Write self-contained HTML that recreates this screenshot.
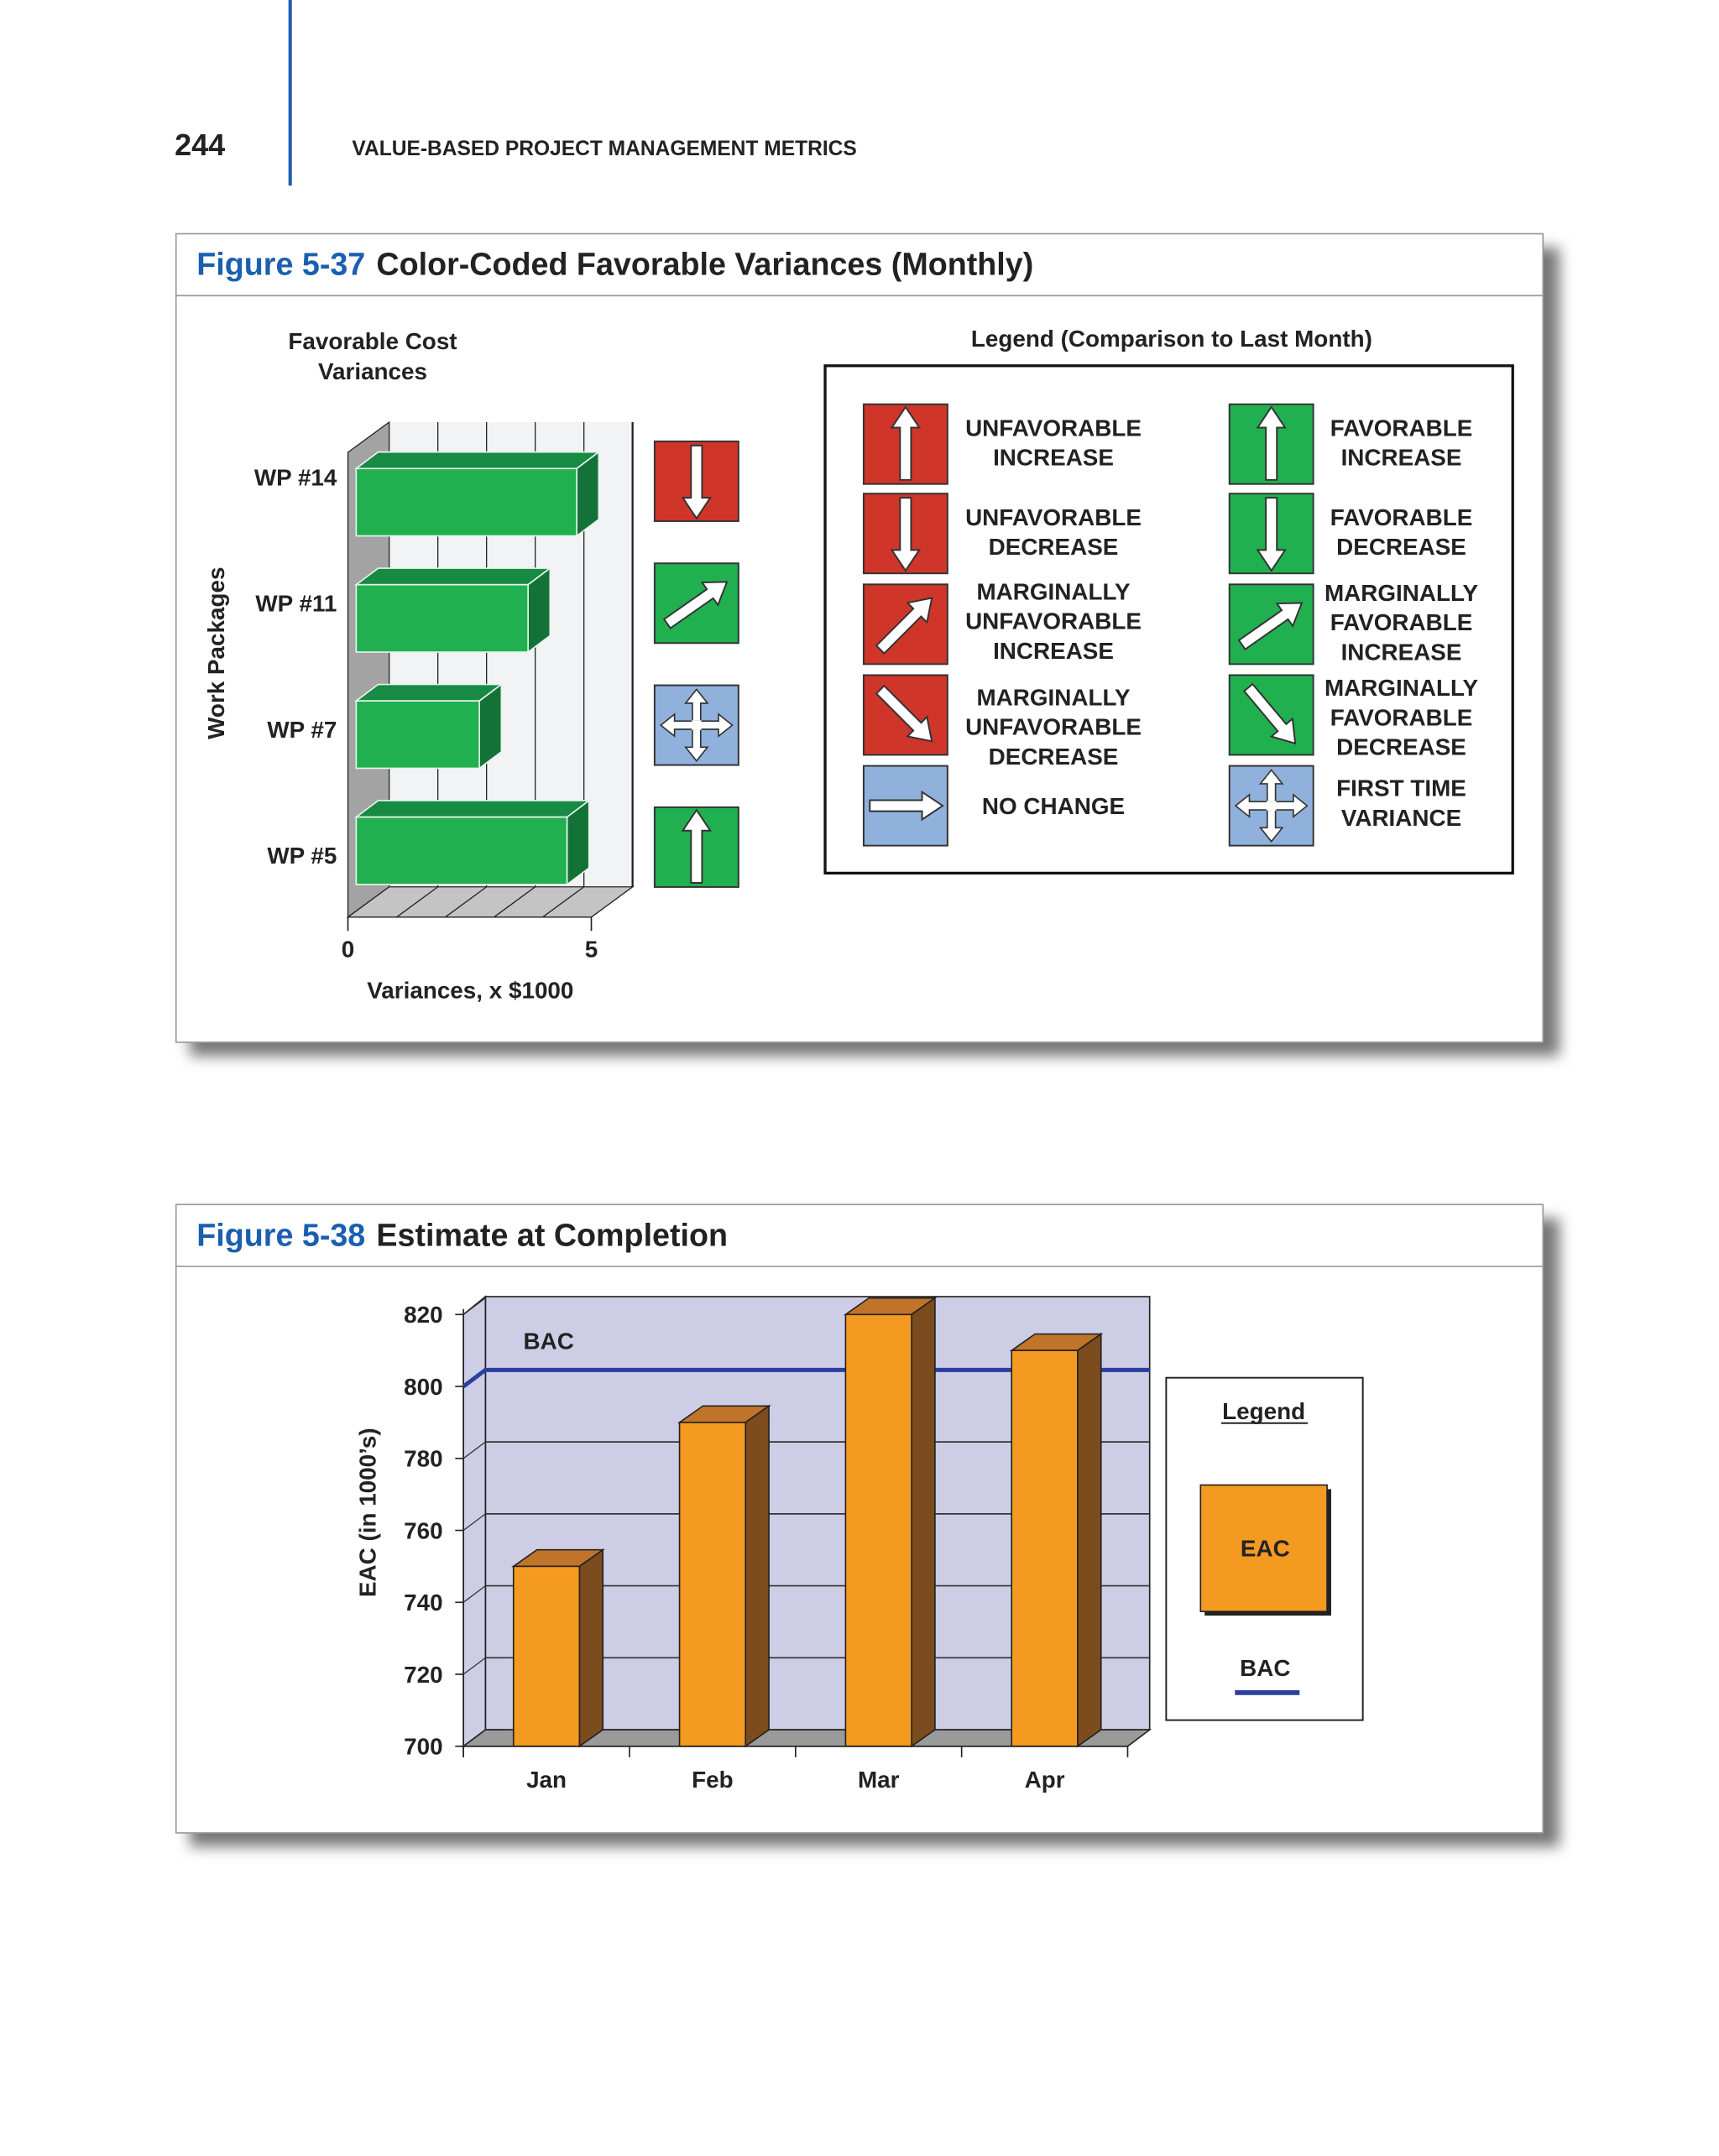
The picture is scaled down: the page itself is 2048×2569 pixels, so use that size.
<!DOCTYPE html>
<html><head><meta charset="utf-8">
<style>
html,body{margin:0;padding:0;background:#fff;}
svg{display:block;}
text{font-family:"Liberation Sans",sans-serif;}
</style></head>
<body>
<svg id="page" width="2048" height="2569" viewBox="0 0 1250 1568" xmlns="http://www.w3.org/2000/svg">
<defs>
<filter id="blur" x="-5%" y="-5%" width="110%" height="110%"><feGaussianBlur stdDeviation="5"/></filter>
</defs>
<rect x="0" y="0" width="1250" height="1568" fill="#fff"/>
<line x1="211" y1="0" x2="211" y2="135" stroke="#1f5fae" stroke-width="2.5"/>
<text x="127" y="113" font-size="22" font-weight="bold" fill="#222">244</text>
<text x="256" y="113" font-size="15" font-weight="bold" fill="#222">VALUE-BASED PROJECT MANAGEMENT METRICS</text>

<g>
<rect x="138" y="180" width="996" height="588" fill="#777" filter="url(#blur)"/>
<rect x="128" y="170" width="994" height="588" fill="#fff" stroke="#999" stroke-width="1"/>
<line x1="128" y1="215" x2="1122" y2="215" stroke="#999" stroke-width="1"/>
<text x="143" y="200" font-size="23" font-weight="bold"><tspan fill="#1a5fb0">Figure 5-37</tspan><tspan fill="#222" dx="8">Color-Coded Favorable Variances (Monthly)</tspan></text>
</g>
<g id="chart1"></g>
<g id="legend1"></g>

<g>
<rect x="138" y="886" width="996" height="457" fill="#777" filter="url(#blur)"/>
<rect x="128" y="876" width="994" height="457" fill="#fff" stroke="#999" stroke-width="1"/>
<line x1="128" y1="921" x2="1122" y2="921" stroke="#999" stroke-width="1"/>
<text x="143" y="906" font-size="23" font-weight="bold"><tspan fill="#1a5fb0">Figure 5-38</tspan><tspan fill="#222" dx="8">Estimate at Completion</tspan></text>
</g>
<g id="chart2"></g>
</svg>
<script>
// ---------- Chart 1 data ----------
const wpLabels = ['WP #14', 'WP #11', 'WP #7', 'WP #5'];
const wpVariances = [4.7, 3.7, 2.7, 4.5];
const wpIcons = ['ud', 'mfi', 'ftv', 'fi'];
const xTicks1 = [0, 5];
// ---------- Chart 2 data ----------
const months = ['Jan', 'Feb', 'Mar', 'Apr'];
const eacValues = [750, 790, 820, 810];
const bacValue = 800;
const yTicks2 = [700, 720, 740, 760, 780, 800, 820];

const NS = 'http://www.w3.org/2000/svg';
function mk(tag, attrs, parent, txt) {
  const e = document.createElementNS(NS, tag);
  for (const k in attrs) e.setAttribute(k, attrs[k]);
  if (txt !== undefined) e.textContent = txt;
  parent.appendChild(e);
  return e;
}
const COL = {r:'#cf3529', g:'#21b04f', b:'#8fb1dc'};
const ARROW = '-4,26 4,26 4,-12 10,-12 0,-27 -10,-12 -4,-12';
function icon(parent, x, y, kind) {
  const g = mk('g', {}, parent);
  
  
  const map = {ui:['r',0], ud:['r',180], mui:['r',45], mud:['r',135], nc:['b',90], fi:['g',0], fd:['g',180], mfi:['g',55], mfd:['g',140], ftv:['b','x']};
  const [c, rot] = map[kind];
  mk('rect', {x:x, y:y, width:61, height:58, fill:COL[c], stroke:'#333', 'stroke-width':1.2}, g);
  const cx = x + 30.5, cy = y + 29;
  if (rot === 'x') {
    [0, 90, 180, 270].forEach(a => {
      mk('polygon', {points:'-3,0 3,0 3,-16 8,-16 0,-26 -8,-16 -3,-16', fill:'#fff', stroke:'#333', 'stroke-width':1, transform:`translate(${cx},${cy}) rotate(${a})`}, g);
    });
    mk('rect', {x:cx-3.5, y:cy-3.5, width:7, height:7, fill:'#fff'}, g);
  } else {
    mk('polygon', {points:ARROW, fill:'#fff', stroke:'#333', 'stroke-width':1.2, transform:`translate(${cx},${cy}) rotate(${rot})`}, g);
  }
}

// ---------- Chart 1 ----------
(function(){
  const g = document.getElementById('chart1');
  const x0 = 253, unit = 35.4, dX = 30, dY = -22, yTop = 329, yBot = 667;
  const xs = v => x0 + v * unit;
  mk('text', {x:271, y:254, 'font-size':17, 'font-weight':'bold', 'text-anchor':'middle', fill:'#222'}, g, 'Favorable Cost');
  mk('text', {x:271, y:276, 'font-size':17, 'font-weight':'bold', 'text-anchor':'middle', fill:'#222'}, g, 'Variances');
  mk('rect', {x:x0+dX, y:yTop+dY, width:5*unit, height:yBot-yTop, fill:'#f1f3f5'}, g);
  for (let i = 1; i <= 5; i++) mk('line', {x1:xs(i)+dX, y1:yTop+dY, x2:xs(i)+dX, y2:yBot+dY, stroke:'#222', 'stroke-width':i===5?1.4:0.8}, g);
  mk('polygon', {points:`${x0},${yTop} ${x0+dX},${yTop+dY} ${x0+dX},${yBot+dY} ${x0},${yBot}`, fill:'#a3a3a3', stroke:'#222', 'stroke-width':0.8}, g);
  mk('polygon', {points:`${x0},${yBot} ${x0+dX},${yBot+dY} ${xs(5)+dX},${yBot+dY} ${xs(5)},${yBot}`, fill:'#c4c4c4', stroke:'#222', 'stroke-width':0.8}, g);
  for (let i = 1; i <= 4; i++) mk('line', {x1:xs(i), y1:yBot, x2:xs(i)+dX, y2:yBot+dY, stroke:'#222', 'stroke-width':0.8}, g);
  mk('line', {x1:x0, y1:yBot, x2:x0, y2:yBot+10, stroke:'#222'}, g);
  mk('line', {x1:xs(5), y1:yBot, x2:xs(5), y2:yBot+10, stroke:'#222'}, g);
  xTicks1.forEach(t => {
    const tx = mk('text', {x:xs(t), y:696, 'font-size':17, 'font-weight':'bold', 'text-anchor':'middle', fill:'#222'}, g, String(t));
    
    
  });
  const xt = mk('text', {x:342, y:726, 'font-size':17, 'font-weight':'bold', 'text-anchor':'middle', fill:'#222'}, g, 'Variances, x $1000');
  
  
  const yt = mk('text', {x:0, y:0, 'font-size':17, 'font-weight':'bold', 'text-anchor':'middle', fill:'#222', transform:'translate(163,475) rotate(-90)'}, g, 'Work Packages');
  
  
  const band = (yBot - yTop) / wpLabels.length;
  wpLabels.forEach((lab, i) => {
    const yc = yTop + band * (i + 0.5) - 6;
    const h = 49, bx = x0 + 6, by = yc - h/2, bw = xs(wpVariances[i]) - bx, ox = 16, oy = -12;
    const bar = mk('g', {}, g);
    
    
    mk('polygon', {points:`${bx},${by} ${bx+ox},${by+oy} ${bx+bw+ox},${by+oy} ${bx+bw},${by}`, fill:'#178a43', stroke:'#e8f5ec', 'stroke-width':1}, bar);
    mk('polygon', {points:`${bx+bw},${by} ${bx+bw+ox},${by+oy} ${bx+bw+ox},${by+h+oy} ${bx+bw},${by+h}`, fill:'#137238', stroke:'#e8f5ec', 'stroke-width':1}, bar);
    mk('rect', {x:bx, y:by, width:bw, height:h, fill:'#21b04f', stroke:'#e8f5ec', 'stroke-width':1}, bar);
    const t = mk('text', {x:245, y:353 + i*91.7, 'font-size':17, 'font-weight':'bold', 'text-anchor':'end', fill:'#222'}, g, lab);
    
    
    icon(g, 476, 321 + i*88.7, wpIcons[i]);
  });
})();

// ---------- Legend 1 ----------
(function(){
  const g = document.getElementById('legend1');
  mk('text', {x:852, y:252, 'font-size':17, 'font-weight':'bold', 'text-anchor':'middle', fill:'#222'}, g, 'Legend (Comparison to Last Month)');
  mk('rect', {x:600, y:266, width:500, height:369, fill:'#fff', stroke:'#111', 'stroke-width':2}, g);
  const left = [['ui', 294, ['UNFAVORABLE','INCREASE'], 311],
                ['ud', 359, ['UNFAVORABLE','DECREASE'], 376],
                ['mui', 425, ['MARGINALLY','UNFAVORABLE','INCREASE'], 430],
                ['mud', 491, ['MARGINALLY','UNFAVORABLE','DECREASE'], 507],
                ['nc', 557, ['NO CHANGE'], 586]];
  const right = [['fi', 294, ['FAVORABLE','INCREASE'], 311],
                 ['fd', 359, ['FAVORABLE','DECREASE'], 376],
                 ['mfi', 425, ['MARGINALLY','FAVORABLE','INCREASE'], 431],
                 ['mfd', 491, ['MARGINALLY','FAVORABLE','DECREASE'], 500],
                 ['ftv', 557, ['FIRST TIME','VARIANCE'], 573]];
  function col(list, ix, tx) {
    list.forEach(([k, y, lines, ty]) => {
      icon(g, ix, y, k);
      lines.forEach((l, j) => {
        const t = mk('text', {x:tx, y:ty + 6 + j*21.5, 'font-size':17, 'font-weight':'bold', 'text-anchor':'middle', fill:'#222'}, g, l);
        
        
      });
    });
  }
  col(left, 628, 766);
  col(right, 894, 1019);
})();

// ---------- Chart 2 ----------
(function(){
  const g = document.getElementById('chart2');
  const x0 = 337, x1 = 820, yBase = 1270, per = (1270 - 956) / 120, dX = 16, dY = -12;
  const ys = v => yBase - (v - 700) * per;
  const bandW = (x1 - x0) / months.length;
  mk('rect', {x:x0+dX, y:ys(820)+dY-1, width:x1-x0, height:yBase-ys(820)+1, fill:'#cecde6', stroke:'#222', 'stroke-width':1}, g);
  mk('polygon', {points:`${x0},${ys(820)} ${x0+dX},${ys(820)+dY-1} ${x0+dX},${yBase+dY} ${x0},${yBase}`, fill:'#cecde6', stroke:'#222', 'stroke-width':1}, g);
  yTicks2.forEach(t => {
    if (t > 700 && t < 820) mk('line', {x1:x0+dX, y1:ys(t)+dY, x2:x1+dX, y2:ys(t)+dY, stroke:'#333', 'stroke-width':1}, g);
    mk('line', {x1:x0, y1:ys(t), x2:x0+dX, y2:ys(t)+dY, stroke:'#333', 'stroke-width':0.8}, g);
    mk('line', {x1:x0-6, y1:ys(t), x2:x0, y2:ys(t), stroke:'#222', 'stroke-width':1}, g);
    const tl = mk('text', {x:322, y:ys(t)+6, 'font-size':17, 'font-weight':'bold', 'text-anchor':'end', fill:'#222'}, g, String(t));
    
    
  });
  mk('polygon', {points:`${x0},${yBase} ${x0+dX},${yBase+dY} ${x1+dX},${yBase+dY} ${x1},${yBase}`, fill:'#9a9a9a', stroke:'#222', 'stroke-width':1}, g);
  mk('line', {x1:x0, y1:ys(820)-4, x2:x0, y2:yBase+8, stroke:'#222', 'stroke-width':1}, g);
  mk('line', {x1:x0, y1:yBase, x2:x1, y2:yBase, stroke:'#222', 'stroke-width':1}, g);
  for (let i = 0; i <= months.length; i++) mk('line', {x1:x0+i*bandW, y1:yBase, x2:x0+i*bandW, y2:yBase+8, stroke:'#222', 'stroke-width':1}, g);
  const bac = mk('polyline', {points:`${x0},${ys(bacValue)} ${x0+dX},${ys(bacValue)+dY} ${x1+dX},${ys(bacValue)+dY}`, fill:'none', stroke:'#2c3f9c', 'stroke-width':3}, g);
  
  
  mk('text', {x:399, y:981, 'font-size':17, 'font-weight':'bold', 'text-anchor':'middle', fill:'#222'}, g, 'BAC');
  months.forEach((m, i) => {
    const cx = x0 + bandW * (i + 0.5), w = 48, bx = cx - w/2, top = ys(eacValues[i]), ox = 17, oy = -12;
    const bar = mk('g', {}, g);
    
    
    mk('polygon', {points:`${bx},${top} ${bx+ox},${top+oy} ${bx+w+ox},${top+oy} ${bx+w},${top}`, fill:'#c0742a', stroke:'#222', 'stroke-width':1}, bar);
    mk('polygon', {points:`${bx+w},${top} ${bx+w+ox},${top+oy} ${bx+w+ox},${yBase+oy} ${bx+w},${yBase}`, fill:'#7d4c1e', stroke:'#222', 'stroke-width':1}, bar);
    mk('rect', {x:bx, y:top, width:w, height:yBase-top, fill:'#f49a20', stroke:'#222', 'stroke-width':1}, bar);
    const t = mk('text', {x:cx, y:1300, 'font-size':17, 'font-weight':'bold', 'text-anchor':'middle', fill:'#222'}, g, m);
    
    
  });
  const yt = mk('text', {x:0, y:0, 'font-size':17, 'font-weight':'bold', 'text-anchor':'middle', fill:'#222', transform:'translate(273,1100) rotate(-90)'}, g, 'EAC (in 1000\u2019s)');
  
  
  const lg = mk('g', {}, g);
  
  
  mk('rect', {x:848, y:1002, width:143, height:249, fill:'#fff', stroke:'#222', 'stroke-width':1.2}, lg);
  mk('text', {x:919, y:1032, 'font-size':17, 'font-weight':'bold', 'text-anchor':'middle', fill:'#222'}, lg, 'Legend');
  mk('line', {x1:888, y1:1035, x2:951, y2:1035, stroke:'#222', 'stroke-width':1.2}, lg);
  mk('rect', {x:876, y:1083, width:92, height:92, fill:'#222'}, lg);
  mk('rect', {x:873, y:1080, width:92, height:92, fill:'#f49a20', stroke:'#222', 'stroke-width':1}, lg);
  mk('text', {x:920, y:1132, 'font-size':17, 'font-weight':'bold', 'text-anchor':'middle', fill:'#222'}, lg, 'EAC');
  mk('text', {x:920, y:1219, 'font-size':17, 'font-weight':'bold', 'text-anchor':'middle', fill:'#222'}, lg, 'BAC');
  mk('line', {x1:898, y1:1231, x2:945, y2:1231, stroke:'#2c3f9c', 'stroke-width':3.5}, lg);
})();
</script>
</body></html>
